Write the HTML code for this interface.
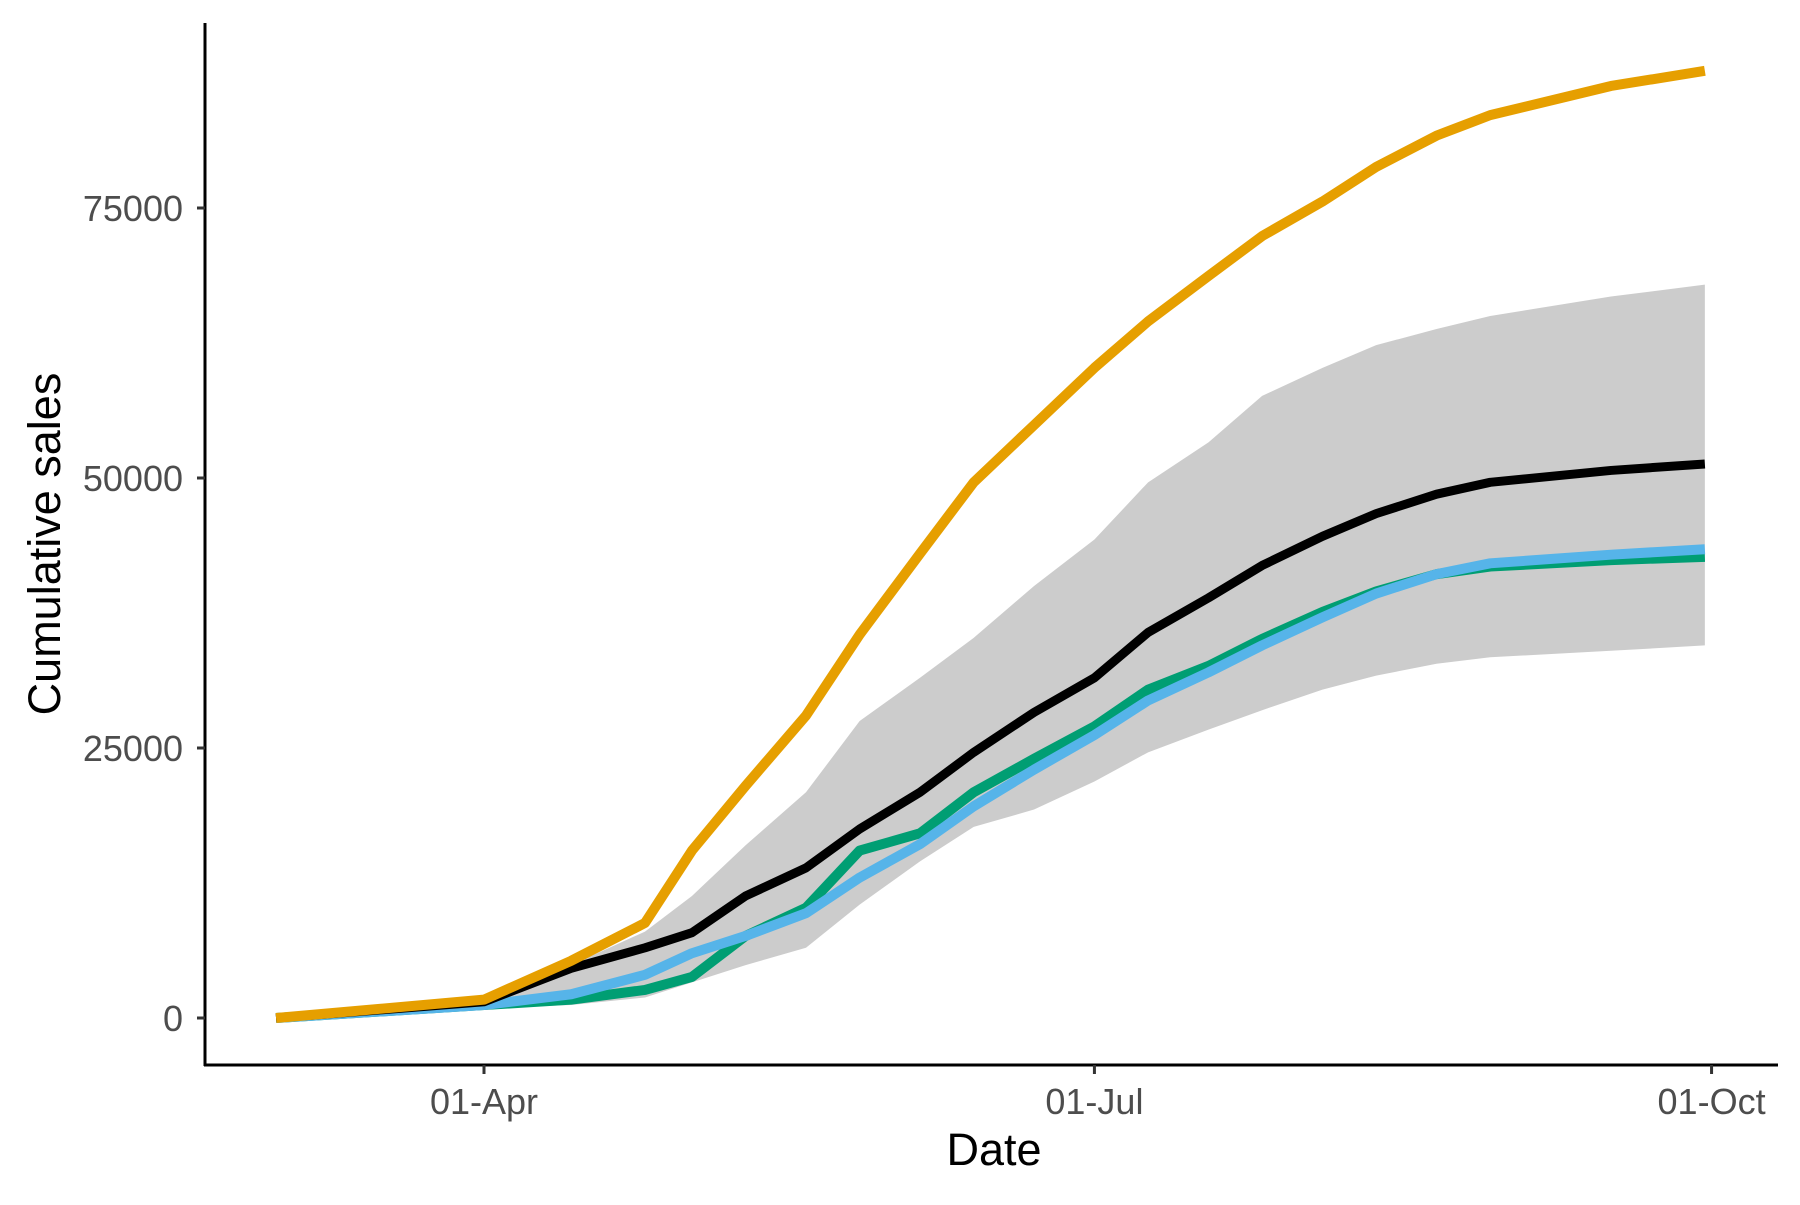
<!DOCTYPE html>
<html><head><meta charset="utf-8"><style>
body{margin:0;background:#fff}
svg text{font-family:"Liberation Sans",sans-serif}
</style></head><body>
<svg id="chart" width="1800" height="1200" viewBox="0 0 1800 1200" xmlns="http://www.w3.org/2000/svg">
<rect width="1800" height="1200" fill="#fff"/>
<g id="plot"></g>
<line x1="205" y1="23" x2="205" y2="1066" stroke="#000" stroke-width="3"/>
<line x1="204" y1="1065" x2="1778" y2="1065" stroke="#000" stroke-width="3"/>
<g id="axes"></g>
<text x="994" y="1165" font-size="45" text-anchor="middle" fill="#000">Date</text>
<text transform="translate(60,544) rotate(-90)" font-size="45" text-anchor="middle" fill="#000">Cumulative sales</text>
</svg>
<script>
const days=[0,31,44,55,62,70,79,87,96,104,113,122,130,139,147,156,164,173,181,199,213];
const orange=[0,1700,5300,8800,15500,21500,28000,35500,43000,49600,54900,60200,64500,68700,72400,75600,78800,81700,83600,86300,87700];
const black=[0,1500,4600,6500,7900,11300,13900,17500,20900,24600,28300,31500,35700,38900,41900,44600,46700,48500,49600,50700,51300];
const green=[0,1200,1700,2600,3800,7600,10200,15500,17100,20900,24000,27000,30400,32600,35100,37600,39500,41100,41800,42400,42700];
const blue=[0,1200,2200,4000,6000,7600,9700,13000,16100,19600,23000,26200,29400,32000,34500,37100,39300,41100,42100,42900,43400];
const upper=[0,1800,4900,8000,11300,16000,20900,27500,31500,35200,40000,44300,49600,53300,57600,60200,62300,63800,65000,66800,67900];
const lower=[0,900,1200,1900,3300,4900,6500,10500,14500,17700,19300,21900,24600,26700,28500,30400,31700,32800,33400,34000,34500];
const yTicks=[0,25000,50000,75000];
const xTickDays=[31,122,214];
const xTickLabels=["01-Apr","01-Jul","01-Oct"];
const X=d=>484+(d-31)*6.708;
const Y=v=>1018-v*270/25000;
const NS="http://www.w3.org/2000/svg";
const plot=document.getElementById('plot'),axes=document.getElementById('axes');
function mk(t,a,p){const e=document.createElementNS(NS,t);for(const k in a)e.setAttribute(k,a[k]);p.appendChild(e);return e;}
let d="";days.forEach((dd,i)=>{d+=(i?"L":"M")+X(dd)+","+Y(upper[i]);});
for(let i=days.length-1;i>=0;i--)d+="L"+X(days[i])+","+Y(lower[i]);
const band=mk('path',{d:d+"Z",fill:"#cccccc"},plot);


function line(vals,col,name,w){const p=mk('polyline',{points:days.map((dd,i)=>X(dd)+","+Y(vals[i])).join(" "),fill:"none",stroke:col,"stroke-width":w,"stroke-linejoin":"round"},plot);

}
line(green,"#009E73","line-green",10);
line(blue,"#56B4E9","line-blue",10);
line(black,"#000000","line-black",9);
line(orange,"#E69F00","line-orange",10);
yTicks.forEach(v=>{const t=mk('line',{x1:197,x2:205,y1:Y(v),y2:Y(v),stroke:"#333","stroke-width":3},axes);


const l=mk('text',{x:183,y:Y(v)+13,"font-size":36,"text-anchor":"end",fill:"#4d4d4d"},axes);l.textContent=v;

});
xTickDays.forEach((dd,i)=>{const t=mk('line',{x1:X(dd),x2:X(dd),y1:1065,y2:1074,stroke:"#333","stroke-width":3},axes);


const l=mk('text',{x:X(dd),y:1114,"font-size":36,"text-anchor":"middle",fill:"#4d4d4d"},axes);l.textContent=xTickLabels[i];

});
</script>
</body></html>
